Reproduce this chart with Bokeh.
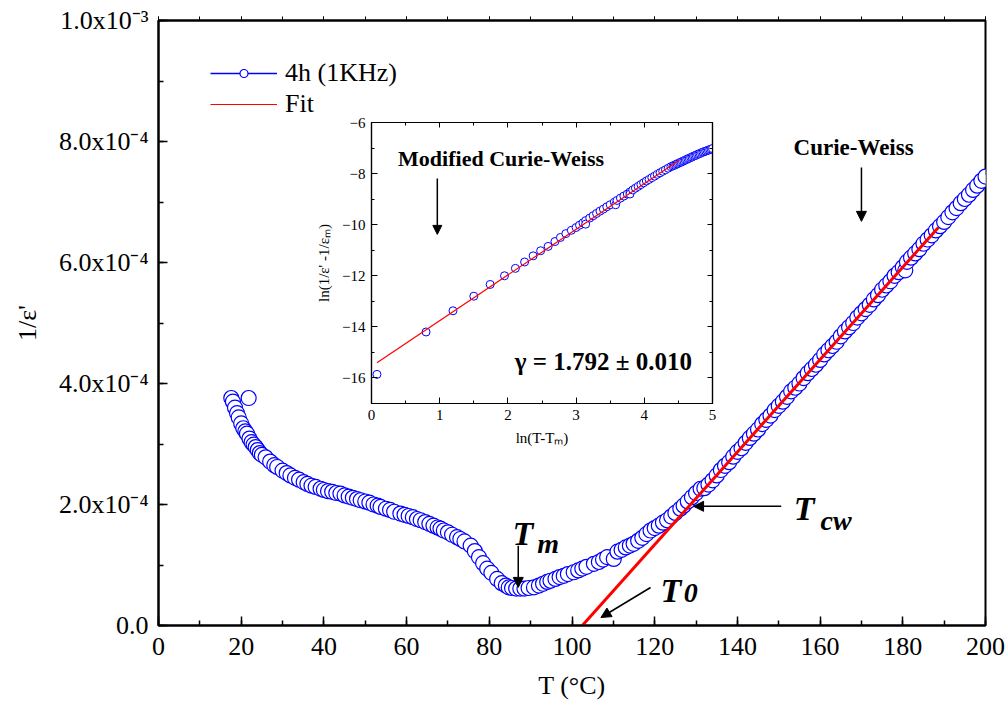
import numpy as np
from bokeh.plotting import figure
from bokeh.models import (Range1d, LinearAxis, SingleIntervalTicker, CustomJSTickFormatter,
                          Legend, LegendItem, Label, Arrow, NormalHead)
from bokeh.layouts import column
from bokeh.embed import file_html
from bokeh.resources import INLINE

# ---------------- data ----------------
# main series: temperature (°C) and 1/eps' (in units of 1e-4)
T_data = [17.6, 18.0, 18.5, 19.0, 19.4, 20.0, 20.5, 21.0, 21.4, 21.8, 22.0, 22.5, 23.0, 23.5,
          24.0, 24.5, 25.0, 25.9, 27.0, 28.0, 28.7, 30.0, 31.0, 31.9, 33.0, 34.0, 35.1, 36.0,
          37.0, 38.0, 39.2, 40.0, 41.0, 42.0, 43.0, 44.0, 45.0, 46.0, 47.0, 48.0, 48.9, 50.0,
          51.0, 52.0, 53.0, 53.7, 55.0, 56.0, 57.0, 58.5, 59.5, 60.5, 61.5, 62.5, 63.4, 64.5,
          65.5, 66.5, 67.5, 68.2, 69.0, 70.0, 71.0, 72.2, 73.0, 74.0, 75.5, 76.5, 77.5, 78.5,
          79.5, 80.5, 81.9, 83.0, 84.0, 84.7, 85.5, 86.5, 87.5, 88.5, 89.5, 90.8, 92.0, 93.0,
          94.0, 94.8, 96.0, 97.0, 98.0, 99.0, 100.4, 101.5, 102.5, 103.5, 105.3, 106.5, 107.5,
          108.5, 110.1, 111.0, 112.0, 113.0, 114.0, 114.9, 116.0, 117.0, 118.0, 119.0, 120.0,
          121.0, 122.0, 123.0, 124.0, 125.0, 126.2, 127.0, 128.0, 129.0, 130.0, 131.1,
          132, 133, 134, 135, 136, 137, 138, 139, 140, 141, 142, 143, 144, 145, 146, 147, 148,
          149, 150, 151, 152, 153, 154, 155, 156, 157, 158, 159, 160, 161, 162, 163, 164, 165,
          166, 167, 168, 169, 170, 171, 172, 173, 174, 175, 176, 177, 178, 179, 180, 180.6, 181,
          182, 183, 184, 185, 186, 187, 188, 189, 190, 191, 192, 193, 194, 195, 196, 197, 198,
          199, 200]
inv_eps_e4 = [3.76, 3.70, 3.60, 3.51, 3.44, 3.34, 3.26, 3.21, 3.17, 3.76, 3.09, 3.03, 2.99, 2.95,
              2.90, 2.85, 2.82, 2.78, 2.71, 2.65, 2.62, 2.56, 2.52, 2.48, 2.44, 2.41, 2.37, 2.34,
              2.31, 2.29, 2.26, 2.24, 2.22, 2.21, 2.19, 2.18, 2.15, 2.13, 2.11, 2.09, 2.07, 2.05,
              2.03, 2.00, 1.98, 1.96, 1.93, 1.91, 1.88, 1.85, 1.83, 1.81, 1.79, 1.76, 1.74, 1.71,
              1.68, 1.65, 1.62, 1.60, 1.57, 1.54, 1.50, 1.46, 1.43, 1.39, 1.32, 1.23, 1.13, 1.03,
              0.94, 0.87, 0.77, 0.70, 0.66, 0.63, 0.62, 0.61, 0.61, 0.61, 0.62, 0.63, 0.66, 0.69,
              0.72, 0.74, 0.77, 0.80, 0.82, 0.85, 0.88, 0.91, 0.94, 0.97, 1.02, 1.05, 1.09,
              1.13, 1.10, 1.22, 1.25, 1.29, 1.32, 1.35, 1.40, 1.45, 1.51, 1.57, 1.61,
              1.65, 1.70, 1.74, 1.80, 1.86, 1.93, 1.98, 2.05, 2.12, 2.19, 2.26,
              2.27, 2.33, 2.40, 2.48, 2.57, 2.64, 2.70, 2.79, 2.87, 2.93, 3.02, 3.10, 3.17, 3.24,
              3.33, 3.40, 3.47, 3.56, 3.63, 3.70, 3.78, 3.87, 3.93, 4.00, 4.09, 4.17, 4.24, 4.31,
              4.39, 4.48, 4.55, 4.62, 4.69, 4.78, 4.86, 4.93, 5.00, 5.09, 5.16, 5.23, 5.30, 5.39,
              5.46, 5.55, 5.62, 5.69, 5.78, 5.84, 5.92, 5.87, 6.01, 6.08, 6.15, 6.22, 6.31, 6.38,
              6.45, 6.53, 6.60, 6.67, 6.75, 6.83, 6.90, 6.98, 7.05, 7.12, 7.20, 7.27, 7.35, 7.42]
fit_T = [102.5, 188.6]
fit_inv_eps = [0.0, 6.58e-4]

y_tick_labels = ["0.0", "2.0x10\u207b\u2074", "4.0x10\u207b\u2074", "6.0x10\u207b\u2074",
                 "8.0x10\u207b\u2074", "1.0x10\u207b\u00b3"]

# inset: ln(T - Tm) vs ln(1/eps' - 1/eps_m)
ln_dT = [0.08, 0.80, 1.195, 1.50, 1.74, 1.95, 2.11, 2.245, 2.37, 2.48, 2.59, 2.69, 2.77, 2.85,
         2.93, 3.00, 3.05, 3.10, 3.14, 3.14, 3.20, 3.25, 3.30, 3.35, 3.40, 3.45, 3.50, 3.56,
         3.58, 3.60, 3.65, 3.70, 3.75, 3.79, 3.79, 3.83, 3.87, 3.91, 3.95, 3.99, 4.03, 4.07,
         4.11, 4.15, 4.19, 4.23, 4.27, 4.31, 4.35, 4.39, 4.42, 4.44, 4.46, 4.48, 4.50, 4.52,
         4.54, 4.56, 4.58, 4.60, 4.62, 4.64, 4.66, 4.68, 4.70, 4.72, 4.74, 4.76, 4.78, 4.80,
         4.82, 4.84, 4.86, 4.88, 4.90, 4.92, 4.94, 4.96, 4.98, 5.00]
ln_diff = [-15.86, -14.20, -13.37, -12.80, -12.34, -12.00, -11.71, -11.46, -11.22, -11.02,
           -10.85, -10.66, -10.50, -10.35, -10.22, -10.11, -10.02, -9.93, -9.84, -9.98, -9.74,
           -9.65, -9.56, -9.47, -9.39, -9.30, -9.22, -9.12, -9.22, -9.05, -8.96, -8.88, -8.80,
           -8.72, -8.80, -8.64, -8.57, -8.50, -8.43, -8.36, -8.29, -8.23, -8.16, -8.10, -8.03,
           -7.97, -7.91, -7.85, -7.79, -7.73, -7.70, -7.67, -7.65, -7.62, -7.60, -7.57, -7.55,
           -7.52, -7.50, -7.47, -7.45, -7.42, -7.40, -7.37, -7.35, -7.32, -7.30, -7.28, -7.25,
           -7.23, -7.21, -7.18, -7.16, -7.14, -7.12, -7.10, -7.08, -7.06, -7.04, -7.02]
inset_fit_x = [0.08, 4.5]
inset_fit_y = [-15.4, -7.5]

# ---------------- styling ----------------
FONT = "Liberation Serif"
BLUE = "#0000ff"
RED = "#ff0000"
NAN = [float("nan")]

BLANK = CustomJSTickFormatter(code="return '';")

# ================= main figure =================
p = figure(width=1008, height=720, x_range=Range1d(0, 200), y_range=Range1d(0, 1e-3),
           output_backend="svg", toolbar_location=None,
           min_border_left=158, min_border_right=23, min_border_top=20, min_border_bottom=95)
p.xgrid.visible = False
p.ygrid.visible = False
p.outline_line_color = "black"
p.outline_line_width = 2
p.background_fill_alpha = 0
p.border_fill_alpha = 0

xa = p.xaxis[0]
xa.ticker = SingleIntervalTicker(interval=20, num_minor_ticks=2)
ya = p.yaxis[0]
ya.ticker = SingleIntervalTicker(interval=2e-4, num_minor_ticks=2)
ya.formatter = CustomJSTickFormatter(args=dict(labels=y_tick_labels, step=2e-4),
                                     code="const i = Math.round(tick / step); return (i >= 0 && i < labels.length) ? labels[i] : '';")
for ax in (xa, ya):
    ax.axis_line_width = 2
    ax.major_tick_in, ax.major_tick_out = 9, 0
    ax.minor_tick_in, ax.minor_tick_out = 5, 0
    ax.major_tick_line_width = 1.5
    ax.minor_tick_line_width = 1.5
    ax.major_label_text_font = FONT
    ax.major_label_text_font_size = "26px"
    ax.major_label_text_color = "black"
    ax.axis_label_text_font = FONT
    ax.axis_label_text_font_size = "26px"
    ax.axis_label_text_font_style = "normal"
    ax.axis_label_text_color = "black"
xa.major_label_standoff = 12
xa.axis_label = "T (\u00b0C)"
xa.axis_label_standoff = 13
ya.major_label_standoff = 10
ya.axis_label = "1/\u03b5'"
ya.axis_label_standoff = 14

top_axis = LinearAxis(ticker=SingleIntervalTicker(interval=20, num_minor_ticks=2),
                      formatter=BLANK, axis_line_width=2,
                      major_tick_in=0, major_tick_out=4, minor_tick_in=0, minor_tick_out=4)
p.add_layout(top_axis, "above")

scat = p.scatter(T_data, np.array(inv_eps_e4) * 1e-4, marker="circle", size=15,
                 fill_color="white", line_color=BLUE, line_width=1.2)
p.line(fit_T, fit_inv_eps, line_color=RED, line_width=3)

leg_line = p.line(NAN, NAN, line_color=BLUE, line_width=1.5)
leg_fit = p.line(NAN, NAN, line_color=RED, line_width=1.2)
legend = Legend(items=[LegendItem(label="4h (1KHz)", renderers=[leg_line, scat]),
                       LegendItem(label="Fit", renderers=[leg_fit])],
                location=(52, 506), glyph_width=67, glyph_height=20, label_height=31,
                spacing=0, padding=0, margin=0, border_line_alpha=0, background_fill_alpha=0,
                label_text_font=FONT, label_text_font_size="26px", label_text_color="black",
                label_standoff=8)
p.add_layout(legend)


def add_label(fig, x, y, text, size, style="bold italic", align="left"):
    fig.add_layout(Label(x=x, y=y, text=text, text_font=FONT, text_font_size=size,
                         text_font_style=style, text_align=align, text_baseline="alphabetic",
                         text_color="black"))


def add_arrow(fig, x0, y0, x1, y1, size=10):
    fig.add_layout(Arrow(end=NormalHead(size=size, fill_color="black", line_color="black"),
                         x_start=x0, y_start=y0, x_end=x1, y_end=y1,
                         line_color="black", line_width=1.5))


# T_m
add_label(p, 85.6, 1.52e-4, "T", "34px")
add_label(p, 91.6, 1.355e-4, "m", "28px")
add_arrow(p, 87.0, 1.32e-4, 87.0, 6.3e-5)
# T_cw
add_label(p, 153.6, 1.934e-4, "T", "34px")
add_label(p, 160.1, 1.736e-4, "cw", "28px")
add_arrow(p, 150.6, 1.97e-4, 129.4, 1.97e-4)
# T_0
add_label(p, 121.4, 5.79e-5, "T", "34px")
add_label(p, 127.0, 5.29e-5, "0", "28px")
add_arrow(p, 119.0, 6.28e-5, 107.0, 1.32e-5)
# Curie-Weiss
add_label(p, 168.1, 7.9e-4, "Curie-Weiss", "23px", style="bold", align="center")
add_arrow(p, 170.0, 7.57e-4, 170.0, 6.68e-4)

# ================= inset =================
# borders match the main figure (column aligns frames), shifted with a margin
ins = figure(width=522, height=348, x_range=Range1d(0, 5), y_range=Range1d(-17, -6),
             output_backend="svg", toolbar_location=None,
             min_border_left=158, min_border_right=23, min_border_top=12, min_border_bottom=55)
ins.xgrid.visible = False
ins.ygrid.visible = False
ins.outline_line_color = "black"
ins.outline_line_width = 1.2
ins.border_fill_alpha = 0
ins.margin = (110, 0, -(110 + 348), 213)

ix = ins.xaxis[0]
ix.ticker = SingleIntervalTicker(interval=1, num_minor_ticks=2)
iy = ins.yaxis[0]
iy.ticker = SingleIntervalTicker(interval=2, num_minor_ticks=2)
for ax in (ix, iy):
    ax.major_tick_in, ax.major_tick_out = 6, 0
    ax.minor_tick_in, ax.minor_tick_out = 3, 0
    ax.axis_line_width = 1.2
    ax.major_label_text_font = FONT
    ax.major_label_text_font_size = "15px"
    ax.major_label_text_color = "black"
    ax.major_label_standoff = 6
    ax.axis_label_text_font = FONT
    ax.axis_label_text_font_size = "15px"
    ax.axis_label_text_font_style = "normal"
    ax.axis_label_text_color = "black"
    ax.axis_label_standoff = 7
ix.axis_label = "ln(T-T\u2098)"
iy.axis_label = "ln(1/\u03b5' -1/\u03b5\u2098)"

ins.add_layout(LinearAxis(ticker=SingleIntervalTicker(interval=1, num_minor_ticks=2),
                          formatter=BLANK, axis_line_width=1.2,
                          major_tick_in=5, major_tick_out=0, minor_tick_in=3, minor_tick_out=0),
               "above")
ins.add_layout(LinearAxis(ticker=SingleIntervalTicker(interval=2, num_minor_ticks=2),
                          formatter=BLANK, axis_line_width=1.2,
                          major_tick_in=5, major_tick_out=0, minor_tick_in=3, minor_tick_out=0),
               "right")

ins.scatter(ln_dT, ln_diff, marker="circle", size=8, fill_color="white",
            line_color=BLUE, line_width=1)
ins.line(inset_fit_x, inset_fit_y, line_color=RED, line_width=1.2)

add_label(ins, 0.39, -7.41, "Modified Curie-Weiss", "22px", style="bold")
add_arrow(ins, 0.965, -8.19, 0.965, -10.38, size=9)
add_label(ins, 2.1, -15.35, "\u03b3 = 1.792 \u00b1 0.010", "25px", style="bold")

layout = column(ins, p)
open("out.html", "w").write(file_html(layout, INLINE))
